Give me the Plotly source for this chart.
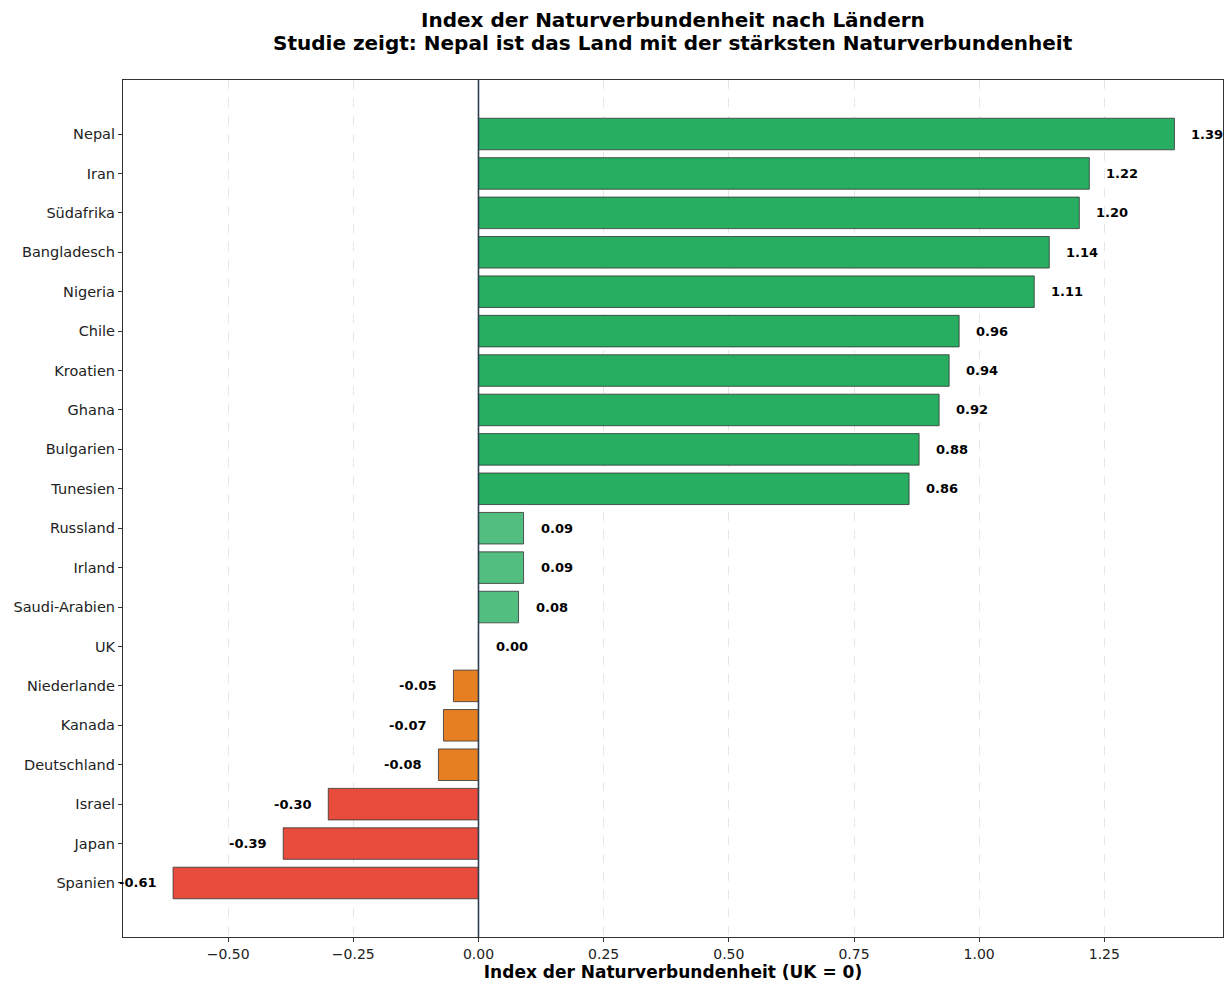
import plotly.graph_objects as go

countries = ["Nepal", "Iran", "Südafrika", "Bangladesch", "Nigeria", "Chile", "Kroatien",
             "Ghana", "Bulgarien", "Tunesien", "Russland", "Irland", "Saudi-Arabien", "UK",
             "Niederlande", "Kanada", "Deutschland", "Israel", "Japan", "Spanien"]
values = [1.39, 1.22, 1.20, 1.14, 1.11, 0.96, 0.94, 0.92, 0.88, 0.86,
          0.09, 0.09, 0.08, 0.00, -0.05, -0.07, -0.08, -0.30, -0.39, -0.61]
x_ticks = [-0.50, -0.25, 0.00, 0.25, 0.50, 0.75, 1.00, 1.25]
title_lines = ["Index der Naturverbundenheit nach Ländern",
               "Studie zeigt: Nepal ist das Land mit der stärksten Naturverbundenheit"]

def color_for(v):
    if v > 0.5:
        return "#27ae60"
    if v > 0:
        return "#52be80"
    if v == 0:
        return "#95a5a6"
    if v > -0.1:
        return "#e67e22"
    return "#e74c3c"

colors = [color_for(v) for v in values]
FONT = "DejaVu Sans"

fig = go.Figure()
fig.add_trace(go.Bar(
    y=countries, x=values, orientation="h", width=0.8,
    marker=dict(color=colors, line=dict(color="#333333", width=0.8)),
    hoverinfo="x+y", showlegend=False,
))

off = 0.03
for c, v in zip(countries, values):
    fig.add_annotation(
        x=v + off if v >= 0 else v - off, y=c,
        text=f"<b>{v:.2f}</b>", showarrow=False,
        xanchor="left" if v >= 0 else "right", yanchor="middle",
        font=dict(family=FONT, size=13, color="black"),
    )

for i, (line, ypx) in enumerate(zip(title_lines, [20, 43])):
    fig.add_annotation(
        xref="paper", yref="paper", x=0.5, y=1 + (80 - ypx) / 857,
        text=f"<b>{line}</b>", showarrow=False, xanchor="center", yanchor="middle",
        font=dict(family=FONT, size=20, color="black"),
    )

fig.add_shape(type="line", xref="x", yref="paper", x0=0, x1=0, y0=0, y1=1,
              line=dict(color="#2c3e50", width=1.6), layer="above")

fig.update_layout(
    width=1227, height=985,
    margin=dict(l=123, r=4, t=80, b=48),
    paper_bgcolor="white", plot_bgcolor="white",
    font=dict(family=FONT, size=14, color="#222222"),
    bargap=0.2,
)

fig.update_xaxes(
    range=[-0.71, 1.487], tickvals=x_ticks, ticktext=[f"{t:.2f}".replace("-", "\u2212") for t in x_ticks],
    showgrid=True, gridcolor="rgba(200,200,200,0.45)", griddash="dash", gridwidth=1,
    zeroline=False, showline=True, linecolor="#333333", linewidth=1.2, mirror=True,
    ticks="outside", ticklen=4, tickcolor="#333333",
    tickfont=dict(family=FONT, size=14, color="#222222"),
    title=dict(text="<b>Index der Naturverbundenheit (UK = 0)</b>", standoff=2,
               font=dict(family=FONT, size=17, color="black")),
)
fig.update_yaxes(
    type="category", categoryorder="array", categoryarray=countries,
    range=[19 + 1.37, -1.37],
    showgrid=False, zeroline=False, showline=True, linecolor="#333333", linewidth=1.2, mirror=True,
    ticks="outside", ticklen=4, tickcolor="#333333",
    tickfont=dict(family=FONT, size=14.5, color="#222222"),
)

fig.write_html("out.html")
